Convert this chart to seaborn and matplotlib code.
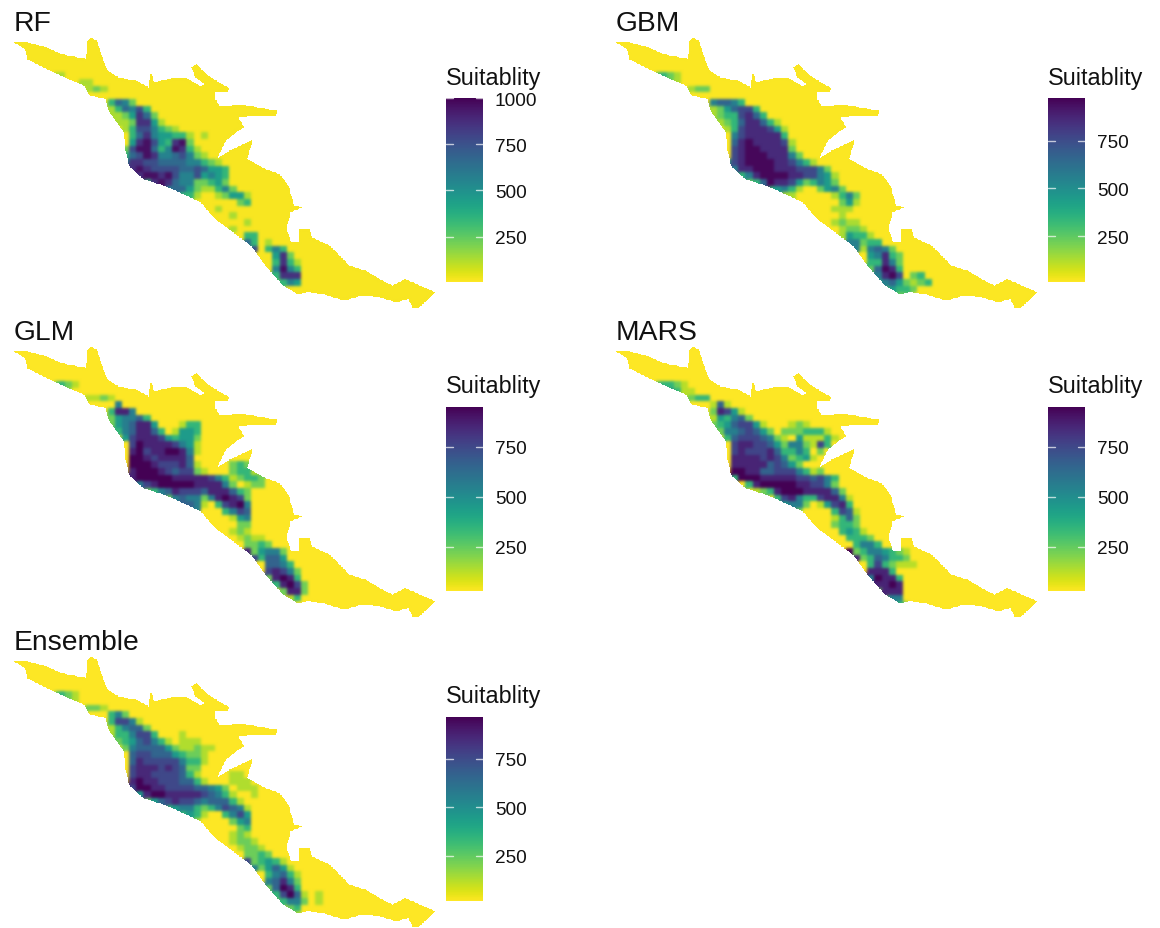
import numpy as np
import matplotlib
matplotlib.use('Agg')
import matplotlib.pyplot as plt
from matplotlib.path import Path
import seaborn as sns

# Range boundary shared by all the maps (map units)
outline_x = [38, 75, 130, 170, 240, 243, 252, 270, 290, 300, 330, 350, 380, 415, 420, 430, 470, 515,
             560, 570, 545, 535, 548, 575, 610, 640, 635, 600, 600, 612, 680, 772, 770, 700, 665, 680,
             665, 630, 605, 640, 705, 690, 740, 780, 805, 820, 842, 810, 800, 812, 835, 835, 865, 870,
             920, 975, 1020, 1075, 1095, 1130, 1215, 1170, 1150, 1140, 1105, 1060, 1010, 960, 900, 860,
             830, 790, 740, 700, 650, 600, 560, 520, 470, 400, 360, 350, 345, 300, 295, 250, 235, 190,
             130, 75, 70]
outline_y = [130, 130, 145, 165, 180, 130, 115, 125, 190, 215, 235, 240, 245, 265, 215, 250, 240, 235,
             262, 255, 235, 205, 195, 225, 250, 268, 278, 278, 300, 320, 318, 335, 352, 352, 355, 385,
             395, 425, 480, 455, 422, 480, 510, 525, 560, 620, 625, 640, 690, 730, 730, 690, 690, 715,
             740, 800, 815, 850, 860, 840, 880, 925, 925, 900, 910, 895, 890, 905, 885, 880,
             885, 860, 800, 740, 700, 660, 610, 590, 565, 540, 500, 450, 400, 330, 300, 290, 260, 240,
             210, 180, 150]

# Suitability classes, 0 is yellow and 9 is darkest
class_values = [15, 130, 230, 340, 450, 560, 660, 760, 860, 960]

# One row per 20 map units from y=200, written as first column:classes
rf_rows = ["", "1:11", "5:11", "6:121", "", "9:3652", "9:136573", "9:1124862", "10:1128841",
           "11:13775321", "12:36854433101", "12:489743892", "11:27996359831", "11:367985567521",
           "11:48877666655321", "11:289877776676443", "12:38998975574543", "14:389865522342",
           "16:35664211352", "19:3310012441", "27:23", "24:1", "26:1", "28:1", "26:1",
           "28:33", "28:6301", "29:70353", "32:482", "32:3831", "32:5953", "32:3888", "32:2354", "32:1", ""]
gbm_rows = ["", "0:23321", "1:1221", "6:122", "", "9:56653", "9:1246773", "9:12337863", "10:123688631",
            "11:137888741", "12:57888883", "12:689888871", "12:789988882", "12:7899988852",
            "11:3789999887531", "12:58899988877752", "13:35899998877541", "14:2369887423542",
            "16:234531002452", "19:11000001352", "27:241", "26:111", "27:1", "26:1211",
            "27:1221", "27:14331", "28:55233", "29:515652", "31:45832", "31:33852", "31:26983",
            "31:15897023", "32:35642123", "33:24332", "35:22"]
glm_rows = ["", "0:12321", "1:331", "5:11121", "10:5", "9:3885", "9:245563", "9:2456884000133",
            "10:356886301443", "11:47888743442", "12:7988887541", "12:8978899851", "12:998788886",
            "12:99987778610000232", "12:899987677210002331", "12:8999998888875312332",
            "13:578999998888520122", "14:235687776888632", "16:2256552589872", "18:16651037895",
            "19:4550003576", "20:230000145", "27:22", "26:121", "27:1211", "28:2232",
            "28:824552", "29:73664", "31:6653", "31:78752", "31:28983", "32:38972", "33:2882", "34:13", ""]
mars_rows = ["", "0:233321", "1:355311", "5:1233", "9:161", "9:28741", "9:143562", "9:23467741000121",
             "10:2556764202223331", "11:3677765210411131", "12:78877642552173", "12:7877786335302",
             "12:888878752341", "12:8888867642", "12:9988667775312", "12:399988888776753",
             "14:3899999887752", "15:1238999888862", "18:37853378851", "19:4552014783",
             "20:2200003761", "26:1362", "26:2332", "27:3431", "28:3332", "29:3553",
             "28:923554321", "29:82365332", "31:3732111", "31:8883", "31:59883", "32:8898",
             "32:2888", "33:255", "35:32"]
ensemble_rows = ["", "0:12321", "1:2321", "5:1221", "9:352", "9:37751", "9:135662", "9:13357730001",
                 "10:234675310111", "11:2566664211211", "12:67766643221", "12:68777775331",
                 "12:7888787622", "12:7887777631000011", "12:89887776631000111",
                 "12:799887777665420111", "13:48998888876531001", "14:24678776566631",
                 "16:2345532357651", "19:3431003574", "20:110000245", "27:23", "26:121", "26:1221",
                 "27:1221", "28:2232", "28:723431", "29:524641", "31:35631", "31:56852", "31:26983",
                 "31:13796101", "32:2355201", "34:23", "35:1"]

panel_names = ['RF', 'GBM', 'GLM', 'MARS', 'Ensemble']
panel_rows = [rf_rows, gbm_rows, glm_rows, mars_rows, ensemble_rows]
bar_min = [5, 8, 30, 30, 18]
bar_max = [1000, 976, 950, 950, 966]
bar_ticks = [[250, 500, 750, 1000], [250, 500, 750], [250, 500, 750], [250, 500, 750], [250, 500, 750]]

# pixel offsets of each panel inside the figure
offset_x = [0, 602, 0, 602, 0]
offset_y = [0, 0, 309, 309, 619]

FIG_W, FIG_H = 1160, 929
FINE = 2          # map units per drawn cell
COARSE = 10       # drawn cells per class cell
N_COLS, N_ROWS = 44, 35
SOFT = np.array([1, 3, 6, 8, 6, 3, 1], dtype=float)


def px_axes(fig, left, top, width, height):
    return fig.add_axes([left / FIG_W, 1 - (top + height) / FIG_H, width / FIG_W, height / FIG_H])


def build_grid(rows, mask):
    grid = np.zeros((N_ROWS, N_COLS), dtype=int)
    for r, row in enumerate(rows):
        if not row:
            continue
        start, digits = row.split(':')
        for i, d in enumerate(digits):
            grid[r, int(start) + i] = int(d)
    values = np.array(class_values, dtype=float)[grid]
    # place the class cells on the finer map raster
    full = np.full(mask.shape, class_values[0], dtype=float)
    r0, c0 = 200 // FINE, 120 // FINE
    fine = np.repeat(np.repeat(values, COARSE, axis=0), COARSE, axis=1)
    full[r0:r0 + fine.shape[0], c0:c0 + fine.shape[1]] = fine
    return full


def smear(arr):
    kernel = SOFT / SOFT.sum()
    arr = np.apply_along_axis(lambda v: np.convolve(v, kernel, mode='same'), 0, arr)
    return np.apply_along_axis(lambda v: np.convolve(v, kernel, mode='same'), 1, arr)


def soften(image, dpi):
    # the source map is a blurry scan, soften colours when drawing but keep the crisp edge
    alpha = image[..., 3]
    weight = np.maximum(smear(alpha), 1e-6)
    out = image.copy()
    for c in range(3):
        out[..., c] = np.clip(smear(image[..., c] * alpha) / weight, 0, 1)
    return out, 0, 0


sns.set_theme(style='white')
plt.rcParams['font.family'] = ['Liberation Sans', 'DejaVu Sans']
cmap = sns.color_palette('viridis_r', as_cmap=True)

# cells outside the boundary stay empty
map_cols, map_rows = 1240 // FINE, 960 // FINE
xx, yy = np.meshgrid((np.arange(map_cols) + 0.5) * FINE, (np.arange(map_rows) + 0.5) * FINE)
boundary = Path(np.column_stack([outline_x, outline_y]))
outside = ~boundary.contains_points(np.column_stack([xx.ravel(), yy.ravel()])).reshape(xx.shape)

fig = plt.figure(figsize=(FIG_W / 100, FIG_H / 100), dpi=100)

for i, name in enumerate(panel_names):
    ox, oy = offset_x[i], offset_y[i]
    ax = px_axes(fig, ox, oy, 444.5, 320)
    cax = px_axes(fig, ox + 446, oy + 99, 37, 184)
    sns.heatmap(build_grid(panel_rows[i], outside), mask=outside, cmap=cmap, vmin=bar_min[i], vmax=bar_max[i],
                ax=ax, cbar_ax=cax, xticklabels=False, yticklabels=False)
    ax.set_axis_off()
    ax.collections[0].set_agg_filter(soften)

    cbar = ax.collections[0].colorbar
    cbar.outline.set_visible(False)
    cbar.set_ticks(bar_ticks[i])
    cbar.ax.tick_params(length=0, pad=8.5, labelsize=13.7, labelcolor='#111111')
    for t in bar_ticks[i]:
        cax.plot([0, 0.2], [t, t], color='white', alpha=0.7, lw=1, transform=cax.get_yaxis_transform())
        cax.plot([0.8, 1], [t, t], color='white', alpha=0.7, lw=1, transform=cax.get_yaxis_transform())

    fig.text((ox + 13.5) / FIG_W, 1 - (oy + 24) / FIG_H, name, fontsize=20.3, va='center', color='#111111')
    fig.text((ox + 446) / FIG_W, 1 - (oy + 78) / FIG_H, 'Suitablity', fontsize=16.8, va='center', color='#111111')

fig.savefig('out.png', dpi=100)
